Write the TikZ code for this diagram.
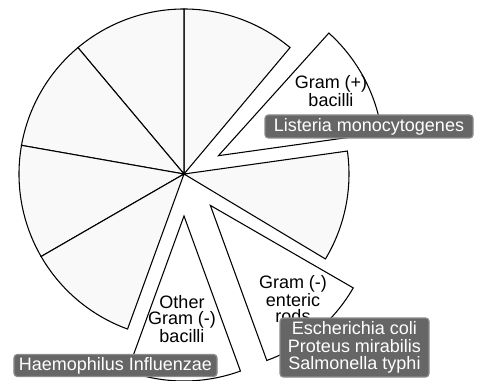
\documentclass[tikz,border=0pt]{standalone}
\usepackage{fontspec}
\setmainfont{Liberation Sans}

\begin{document}
\begin{tikzpicture}
		[x=0.75pt,y=0.75pt,
		 wedge/.style= {line width=0.8pt,draw=black,line join=miter},
		 pie/.style= {wedge,fill=black!2.5},
		 txt/.style= {align=center,inner sep=0pt,font=\fontsize{13.5}{12}\selectfont},
		 tag/.style= {draw=black!45,line width=0.9pt,fill=black!60,rounded corners=2.5pt,
			text=white,inner sep=0pt,align=center,font=\fontsize{13.5}{13}\selectfont}]

		\useasboundingbox (-184,-207) rectangle (297,174);

		% slices left in the pie
		\foreach \a in {50,90,130,170,210}
			\draw[pie] (0,0) -- (\a:165) arc (\a:\a+40:165) -- cycle;
		\draw[pie] (0,0) -- (-31:165) arc (-31:8:165) -- cycle;

		% slices pulled out
		\draw[wedge,fill=white] (28:39) -- ++(8:165) arc (8:48:165) -- cycle;
		\draw[wedge,fill=white] (270:42) -- ++(250:165) arc (250:290:165) -- cycle;
		\draw[wedge,fill=white] (310:41) -- ++(290:165) arc (290:330:165) -- cycle;

		\node[txt] (gpos) at (147,83) {Gram (+)\\bacilli}
		;

		\node[txt,anchor=north] (gneg) at (109,-101) {Gram (-)\\enteric\\rods}
		;

		\node[txt,anchor=north] (other) at (-2,-121) {Other\\Gram (-)\\bacilli}
		;

		\node[tag,minimum width=156pt,minimum height=17.25pt] (listeria) at (185,47.5)
			{Listeria monocytogenes}
		;

		\node[tag,minimum width=152.25pt,minimum height=16.5pt] (haemo) at (-68.5,-191.5)
			{Haemophilus Influenzae}
		;

		\node[tag,minimum width=111.75pt,minimum height=44.25pt] (entero) at (170.5,-173.5)
			{Escherichia coli\\Proteus mirabilis\\Salmonella typhi}
		;

	\end{tikzpicture}
\end{document}
